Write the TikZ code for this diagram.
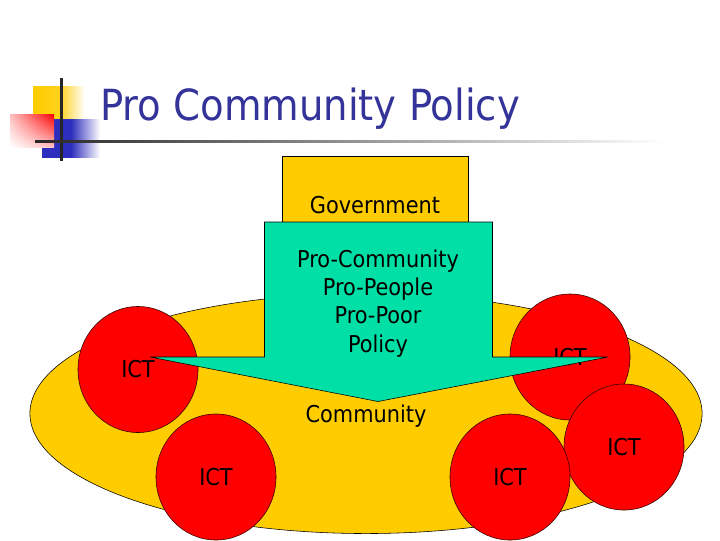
\documentclass[tikz,border=0pt]{standalone}
\usepackage{fontspec}
\setmainfont{DejaVu Sans Condensed}
\usetikzlibrary{shapes.geometric,shadings}
\definecolor{slideblue}{HTML}{333399}
\definecolor{logoblue}{HTML}{2E2EBE}
\definecolor{slideyellow}{HTML}{FFCC00}
\definecolor{slidegreen}{HTML}{00E0A6}
\tikzset{ict node/.style={ellipse,draw=black!80!red,fill=red,minimum width=3cm,minimum height=3.15cm,inner sep=0pt,font=\fontsize{16.5}{20}\selectfont},
  label node/.style={inner sep=0pt,align=center,font=\fontsize{16.5}{20}\selectfont}}

\begin{document}
\begin{tikzpicture}[x=0.025cm,y=-0.025cm]
  \useasboundingbox (0,0) rectangle (720,540);

  % logo
  \shade[left color=slideyellow,right color=white,middle color=slideyellow!90!white] (33,86) rectangle (85,119);
  \shade[left color=logoblue,right color=white,middle color=logoblue] (42,119) rectangle (100,157);
  \shade[lower right=red!25,upper right=red,upper left=red!25,lower left=white] (10,114) rectangle (54,147);
  \draw[line width=1.8pt,black!85] (61.5,78) -- (61.5,161);
  \shade[left color=black!85,right color=white] (35,140) rectangle (665,142.5);

  \node[inner sep=0pt,anchor=base west,text=slideblue,font=\fontsize{30.5}{32}\selectfont] (title) at (100,120) {Pro Community Policy};

  \node[ellipse,draw=black,fill=slideyellow,minimum width=16.8cm,minimum height=6cm] (ground) at (366,413.5) {};
  \node[label node] (community) at (366,416) {Community};

  \node[ict node] (ict2) at (570,357) {ICT};
  \node[ict node] (ict1) at (138,369.5) {ICT};
  \node[ict node] (ict3) at (216,477) {ICT};
  \node[ict node] (ict5) at (624,447) {ICT};
  \node[ict node] (ict4) at (510,477) {ICT};

  \draw[black,fill=slideyellow] (282,156) rectangle (468,230);
  \node[label node] (government) at (375,205) {Government};

  % arrow
  \draw[black,fill=slidegreen,line join=miter] (264.5,222) -- (492.5,222) -- (492.5,357) -- (608,357)
    -- (378,401.5) -- (150,357) -- (264.5,357) -- cycle;
  \node[label node] (policy) at (378,303.5) {Pro-Community\\Pro-People\\Pro-Poor\\Policy};
\end{tikzpicture}
\end{document}
